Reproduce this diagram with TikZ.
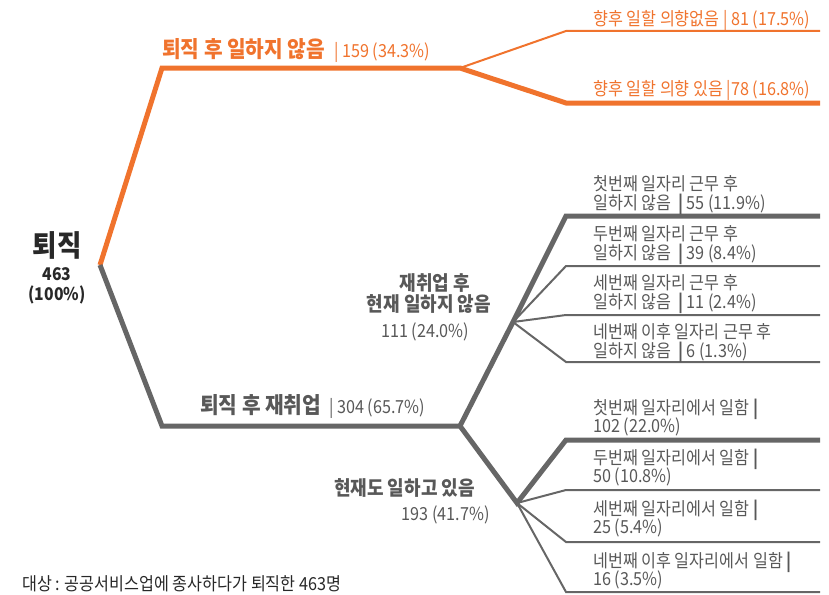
\documentclass[tikz,border=0pt]{standalone}
\usepackage{fontspec}
\setmainfont[FakeStretch=0.9]{Noto Sans CJK KR}
\definecolor{org}{RGB}{240,115,45}
\definecolor{gln}{RGB}{102,102,102}
\definecolor{gtx}{RGB}{88,88,88}
\definecolor{blk}{RGB}{40,40,40}
\newcommand\fsm{\fontsize{18}{19}\selectfont}
\newcommand\fbg{\fontsize{22.5}{24}\selectfont\bfseries}
\newcommand\fmd{\fontsize{20}{22}\selectfont\bfseries}
\tikzset{
  thickln/.style={line width=5pt, line join=miter, line cap=butt},
  thinln/.style={line width=2pt, line join=miter, line cap=butt},
  lbl/.style={anchor=base west, inner sep=0pt, font=\fsm, text=gtx},
  olbl/.style={anchor=base west, inner sep=0pt, font=\fsm, text=org},
  mid/.style={anchor=base, inner sep=0pt, text=gtx},
}
\begin{document}
\begin{tikzpicture}[x=1pt,y=-1pt]
\useasboundingbox (0,0) rectangle (829,594);
% coordinates
\coordinate (root) at (100,265);
\coordinate (o1) at (162,68);
\coordinate (o2) at (460,68);
\coordinate (ou) at (566,31);
\coordinate (oue) at (820,31);
\coordinate (ol) at (566,103);
\coordinate (ole) at (820,103);
\coordinate (g1) at (162,426);
\coordinate (g2) at (460,426);
\coordinate (gb1) at (513,322);
\coordinate (gb2) at (517,503);
\coordinate (u1) at (566,216);  \coordinate (u1e) at (820,216);
\coordinate (u2) at (566,266);  \coordinate (u2e) at (820,266);
\coordinate (u3) at (566,315);  \coordinate (u3e) at (820,315);
\coordinate (u4) at (566,362);  \coordinate (u4e) at (820,362);
\coordinate (d1) at (566,440);  \coordinate (d1e) at (820,440);
\coordinate (d2) at (566,490);  \coordinate (d2e) at (820,490);
\coordinate (d3) at (566,542);  \coordinate (d3e) at (820,542);
\coordinate (d4) at (566,592);  \coordinate (d4e) at (820,592);
% orange lines
\draw[org, thickln] (root) -- (o1) -- (o2) -- (ol) -- (ole);
\draw[org, thinln] (o2) -- (ou) -- (oue);
% grey lines
\draw[gln, thickln] (root) -- (g1) -- (g2) -- (gb2) -- (d1) -- (d1e);
\draw[gln, thickln] (g2) -- (gb1) -- (u1) -- (u1e);
\draw[gln, thinln] (gb1) -- (u2) -- (u2e);
\draw[gln, thinln] (gb1) -- (u3) -- (u3e);
\draw[gln, thinln] (gb1) -- (u4) -- (u4e);
\draw[gln, thinln] (gb2) -- (d2) -- (d2e);
\draw[gln, thinln] (gb2) -- (d3) -- (d3e);
\draw[gln, thinln] (gb2) -- (d4) -- (d4e);
% root labels
\node[mid, text=blk, font=\fontsize{29.5}{31}\selectfont\bfseries] (rt) at (57,256) {퇴직};
\node[mid, text=blk, font=\fontsize{17.5}{19}\selectfont\bfseries] (rn) at (57,280) {463};
\node[mid, text=blk, font=\fontsize{17.5}{19}\selectfont\bfseries] (rp) at (57,300) {(100\%)};
% orange labels
\node[anchor=base west, inner sep=0pt, text=org] (on) at (162,58) {{\fbg 퇴직 후 일하지 않음}\hspace{9pt}{\fsm| 159 (34.3\%)}};
\node[olbl] (oa) at (593,26) {향후 일할 의향없음 | 81 (17.5\%)};
\node[olbl] (ob) at (593,95) {향후 일할 의향 있음 |78 (16.8\%)};
% grey mid labels
\node[anchor=base west, inner sep=0pt, text=gtx] (gn) at (200,413) {{\fbg 퇴직 후 재취업}\hspace{8pt}{\fsm| 304 (65.7\%)}};
\node[mid, font=\fmd] (ma) at (435,290) {재취업 후};
\node[mid, font=\fmd] (mb) at (429,311) {현재 일하지 않음};
\node[mid, font=\fsm] (mc) at (425,337) {111 (24.0\%)};
\node[anchor=base east, inner sep=0pt, text=gtx, font=\fmd] (na) at (475,495) {현재도 일하고 있음};
\node[anchor=base east, inner sep=0pt, text=gtx, font=\fsm] (nb) at (490,520) {193 (41.7\%)};
% upper right group
\node[lbl] (u1a) at (593,190) {첫번째 일자리 근무 후};
\node[lbl] (u1b) at (593,209) {일하지 않음 \ {\bfseries|}\,55 (11.9\%)};
\node[lbl] (u2a) at (593,240) {두번째 일자리 근무 후};
\node[lbl] (u2b) at (593,259) {일하지 않음 \ {\bfseries|}\,39 (8.4\%)};
\node[lbl] (u3a) at (593,289) {세번째 일자리 근무 후};
\node[lbl] (u3b) at (593,308) {일하지 않음 \ {\bfseries|}\,11 (2.4\%)};
\node[lbl] (u4a) at (593,338) {네번째 이후 일자리 근무 후};
\node[lbl] (u4b) at (593,357) {일하지 않음 \ {\bfseries|}\,6 (1.3\%)};
% lower right group
\node[lbl] (d1a) at (593,414) {첫번째 일자리에서 일함 {\bfseries|}};
\node[lbl] (d1b) at (593,432.5) {102 (22.0\%)};
\node[lbl] (d2a) at (593,464) {두번째 일자리에서 일함 {\bfseries|}};
\node[lbl] (d2b) at (593,482.5) {50 (10.8\%)};
\node[lbl] (d3a) at (593,515) {세번째 일자리에서 일함 {\bfseries|}};
\node[lbl] (d3b) at (593,533.5) {25 (5.4\%)};
\node[lbl] (d4a) at (593,567) {네번째 이후 일자리에서 일함 {\bfseries|}};
\node[lbl] (d4b) at (593,585.5) {16 (3.5\%)};
% footnote
\node[anchor=base west, inner sep=0pt, text=blk, font=\fsm] (fn) at (22,590) {대상 : 공공서비스업에 종사하다가 퇴직한 463명};
\end{tikzpicture}
\end{document}
